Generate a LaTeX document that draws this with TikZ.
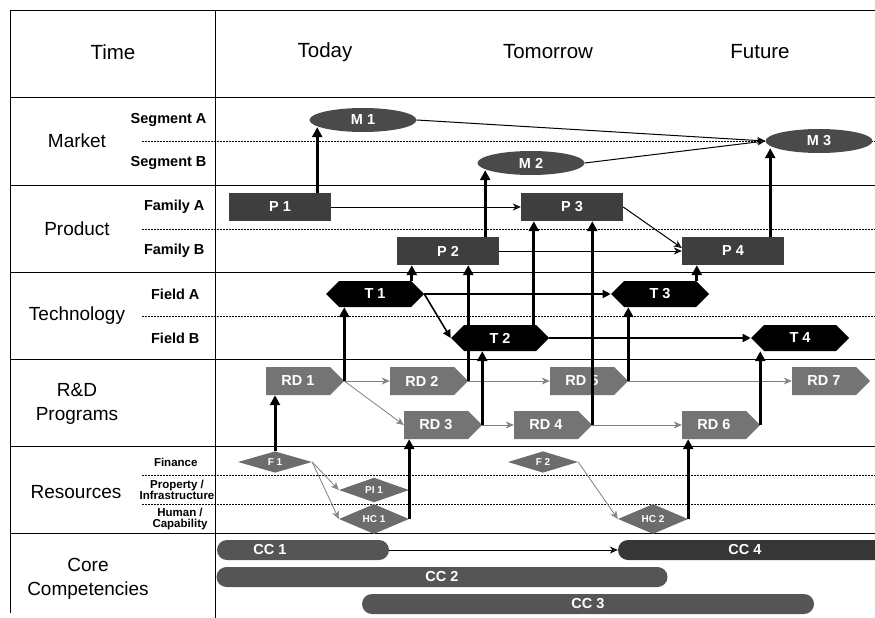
\documentclass[tikz,border=0pt]{standalone}
\usepackage{fontspec}
\setmainfont{Liberation Sans}
\usetikzlibrary{shapes.geometric,shapes.symbols,arrows.meta}
\definecolor{mktgray}{HTML}{4A4A4A}
\definecolor{prodgray}{HTML}{3E3E3E}
\definecolor{rdgray}{HTML}{747474}
\definecolor{resgray}{HTML}{6C6C6C}
\definecolor{ccgray}{HTML}{555555}
\definecolor{ccdark}{HTML}{363636}
\definecolor{headgray}{HTML}{909090}

\begin{document}
\begin{tikzpicture}[x=1pt,y=-1pt,
  grid/.style={line width=0.9pt},
  sub/.style={line width=0.6pt,dash pattern=on 2pt off 1pt},
  head/.style={font=\fontsize{20.5}{20}\selectfont},
  row/.style={font=\fontsize{19}{24}\selectfont,align=center},
  tag/.style={anchor=east,font=\bfseries\fontsize{14.5}{15}\selectfont},
  tiny/.style={font=\bfseries\fontsize{11.5}{10.5}\selectfont,align=center},
  item/.style={text=white,inner sep=0pt,font=\bfseries\fontsize{14.5}{15}\selectfont},
  mkt/.style={item,ellipse,fill=mktgray,minimum width=107pt,minimum height=24pt},
  prod/.style={item,rectangle,fill=prodgray,minimum width=102pt,minimum height=28pt},
  tech/.style={item,signal,signal to=east and west,fill=black,minimum width=98pt,minimum height=26pt},
  rdp/.style={item,signal,signal to=east,fill=rdgray,minimum width=78pt,minimum height=28pt},
  res/.style={item,diamond,fill=resgray,minimum width=70pt,minimum height=17pt,font=\bfseries\fontsize{10}{10}\selectfont},
  comp/.style={item,rectangle,rounded corners=10pt,fill=ccgray,minimum height=20pt},
  up/.style={line width=3pt,-{Triangle[length=10pt,width=10pt]}},
  tflow/.style={line width=1.6pt,-{Triangle[length=8pt,width=8pt]}},
  link/.style={line width=1pt,-{Stealth[length=8pt,width=7pt,fill=headgray]}},
  rflow/.style={line width=0.8pt,draw=gray,-{Stealth[length=8pt,width=7pt,fill=headgray]}}]
  \useasboundingbox (0,0) rectangle (875,618);
  \clip (0,0) rectangle (875,618);

  % table frame
  \draw[grid] (10,10) -- (10,613);
  \draw[grid] (215,10) -- (215,618);
  \foreach \y in {10,97,185,272,359,446,533}
    \draw[grid] (10,\y) -- (875,\y);
  \foreach \y in {141,229,316,475,504}
    \draw[sub] (142,\y) -- (875,\y);

  % time axis
  \node[head] (time) at (113,52) {Time};
  \node[head] (today) at (325,52) {Today};
  \node[head] (tomorrow) at (548,52) {Tomorrow};
  \node[head] (future) at (760,52) {Future};

  % layers and sub-layers
  \node[row] (market) at (77,141) {Market};
  \node[row] (product) at (77,229) {Product};
  \node[row] (technology) at (77,316) {Technology};
  \node[row] (rnd) at (77,404) {R\&D\\Programs};
  \node[row] (resources) at (76,492) {Resources};
  \node[row] (core) at (88,579) {Core\\Competencies};
  \node[tag] (segA) at (210,120) {Segment A};
  \node[tag] (segB) at (210,163) {Segment B};
  \node[tag] (famA) at (208,207) {Family A};
  \node[tag] (famB) at (208,251) {Family B};
  \node[tag] (fldA) at (203,294) {Field A};
  \node[tag] (fldB) at (203,338) {Field B};
  \node[tiny,anchor=east] (fin) at (201,462) {Finance};
  \node[tiny] (prop) at (177,490) {Property /\\Infrastructure};
  \node[tiny] (hum) at (180,519) {Human /\\Capability};

  % market, product, technology
  \node[mkt] (M1) at (363,120) {M 1};
  \node[mkt] (M2) at (531,163) {M 2};
  \node[mkt] (M3) at (819,141) {M 3};
  \node[prod] (P1) at (280,207) {P 1};
  \node[prod] (P2) at (448,251) {P 2};
  \node[prod] (P3) at (572,207) {P 3};
  \node[prod] (P4) at (733,251) {P 4};
  \node[tech] (T1) at (375,294) {T 1};
  \node[tech] (T2) at (500,338) {T 2};
  \node[tech] (T3) at (660,294) {T 3};
  \node[tech] (T4) at (800,338) {T 4};

  % R&D programs and resources
  \node[rdp] (RD1) at (298,381) {RD 1};
  \node[rdp] (RD2) at (422,381) {RD 2};
  \node[rdp] (RD3) at (436,425) {RD 3};
  \node[rdp] (RD4) at (546,425) {RD 4};
  \node[rdp] (RD5) at (582,381) {RD 5};
  \node[rdp] (RD6) at (714,425) {RD 6};
  \node[rdp] (RD7) at (824,381) {RD 7};
  \node[res,minimum width=74pt] (F1) at (275,462) {F 1};
  \node[res] (PI1) at (374,490) {PI 1};
  \node[res] (HC1) at (374,519) {HC 1};
  \node[res] (F2) at (543,462) {F 2};
  \node[res] (HC2) at (653,519) {HC 2};

  % core competencies
  \node[comp,minimum width=172pt,label={[item,xshift=-33pt]center:CC 1}] (CC1) at (303,550) {};
  \node[comp,minimum width=451pt] (CC2) at (442,577) {CC 2};
  \node[comp,minimum width=452pt] (CC3) at (588,604) {CC 3};
  \node[comp,fill=ccdark,minimum width=284pt,label={[item,xshift=-15pt]center:CC 4}] (CC4) at (760,550) {};

  % links along each layer
  \draw[link] (M1.east) -- (M3.west);
  \draw[link] (M2.east) -- (M3.west);
  \draw[link] (P1.east) -- (P3.west);
  \draw[link] (P2.east) -- (P4.west);
  \draw[link] (P3.east) -- ([yshift=3pt]P4.west);
  \draw[tflow] (T1.east) -- (T3.west);
  \draw[tflow] (T1.east) -- (T2.west);
  \draw[tflow] (T2.east) -- (T4.west);
  \draw[rflow] (RD1.east) -- (RD2.west);
  \draw[rflow] (RD1.east) -- (RD3.west);
  \draw[rflow] (RD2.east) -- (RD5.west);
  \draw[rflow] (RD3.east) -- (RD4.west);
  \draw[rflow] (RD4.east) -- (RD6.west);
  \draw[rflow] (RD5.east) -- (RD7.west);
  \draw[rflow] (F1.east) -- (PI1.west);
  \draw[rflow] (F1.east) -- (HC1.west);
  \draw[rflow] (F2.east) -- (HC2.west);
  \draw[link] (CC1.east) -- (CC4.west);

  % links between layers
  \draw[up,shorten >=-5pt] ([xshift=-14pt]P1.north east) -- ([xshift=-14pt]P1.north east |- M1.south);
  \draw[up,shorten >=-5pt] ([xshift=-14pt]P2.north east) -- ([xshift=-14pt]P2.north east |- M2.south);
  \draw[up,shorten >=-5pt] ([xshift=-14pt]P4.north east) -- ([xshift=-14pt]P4.north east |- M3.south);
  \draw[up] ([xshift=15pt]P2.south west |- T1.north) -- ([xshift=15pt]P2.south west);
  \draw[up] ([xshift=13pt]P3.south west |- T2.north) -- ([xshift=13pt]P3.south west);
  \draw[up] ([xshift=15pt]P4.south west |- T3.north) -- ([xshift=15pt]P4.south west);
  \draw[up] (RD1.east) -- (RD1.east |- T1.south);
  \draw[up] (RD2.east) -- (RD2.east |- P2.south);
  \draw[up] (RD3.east) -- (RD3.east |- T2.south);
  \draw[up] (RD4.east) -- (RD4.east |- P3.south);
  \draw[up] (RD5.east) -- (RD5.east |- T3.south);
  \draw[up] (RD6.east) -- (RD6.east |- T4.south);
  \draw[up] (F1.north) -- (F1.north |- RD1.south);
  \draw[up] (HC1.east) -- (HC1.east |- RD3.south);
  \draw[up] (HC2.east) -- (HC2.east |- RD6.south);
\end{tikzpicture}
\end{document}
